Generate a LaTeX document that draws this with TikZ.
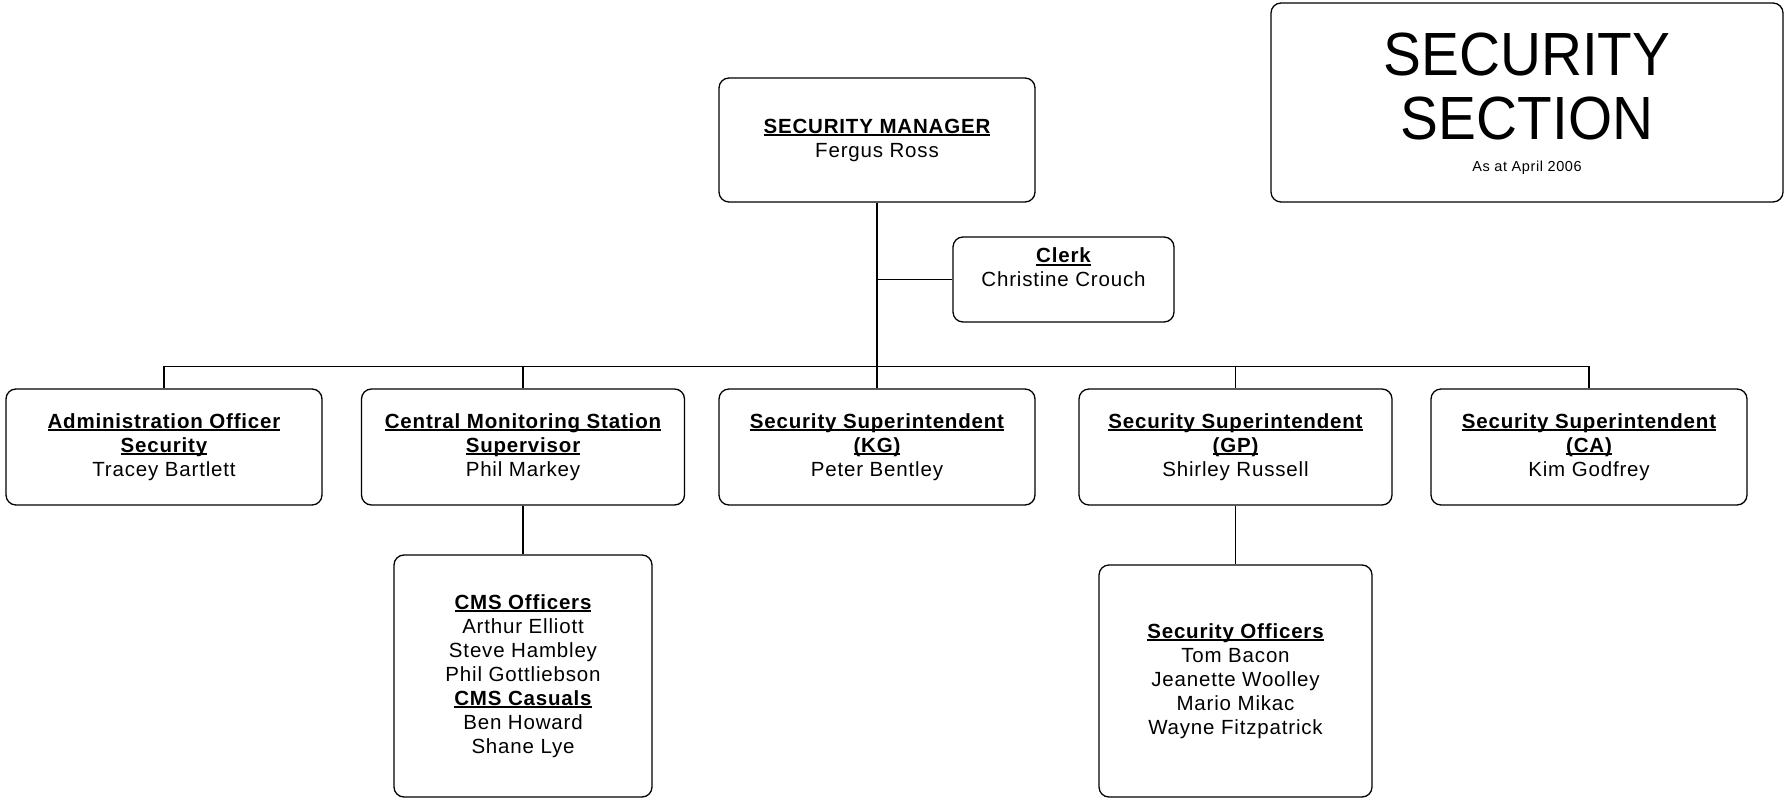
\documentclass[tikz,border=0pt]{standalone}
\usepackage{fontspec}
\setmainfont{Liberation Sans}[LetterSpace=4]
\newfontfamily\titlefont{Liberation Sans}[FakeStretch=0.93]
\usetikzlibrary{positioning}

\newsavebox{\ulbox}
\newcommand{\ulbf}[1]{\sbox{\ulbox}{\bfseries #1}\rlap{\rule[-2.6pt]{\wd\ulbox}{1.6pt}}\usebox{\ulbox}}

\begin{document}
\begin{tikzpicture}[x=1pt, y=-1pt,
    box/.style={draw, line width=1.3pt, rounded corners=10pt, align=center,
      font=\fontsize{20.5}{24}\selectfont, inner sep=2pt},
    link/.style={line width=1.3pt}]
  \useasboundingbox (0,0) rectangle (1786,799);

  % Title block
  \node[box, minimum width=512, minimum height=199] (title) at (1527,102.5) {};
  \node[anchor=base, font=\titlefont\fontsize{61}{65}\selectfont] (ttlA) at (1527,76) {SECURITY};
  \node[anchor=base, font=\titlefont\fontsize{61}{65}\selectfont] (ttlB) at (1527,140) {SECTION};
  \node[anchor=base, font=\fontsize{14.5}{17}\selectfont] (ttlC) at (1527,172) {As at April 2006};

  % Manager and clerk
  \node[box, minimum width=316, minimum height=124] (mgr) at (877,140)
    {\ulbf{SECURITY MANAGER}\\Fergus Ross};
  \node[box, minimum width=221, minimum height=85] (clerk) at (1063.5,279.5)
    {\ulbf{Clerk}\\Christine Crouch\\ \mbox{}};

  % Second row
  \node[box, minimum width=316, minimum height=116] (admin) at (164,447)
    {\ulbf{Administration Officer}\\\ulbf{Security}\\Tracey Bartlett};
  \node[box, minimum width=323, minimum height=116] (cms) at (523,447)
    {\ulbf{Central Monitoring Station}\\\ulbf{Supervisor}\\Phil Markey};
  \node[box, minimum width=316, minimum height=116] (kg) at (877,447)
    {\ulbf{Security Superintendent}\\\ulbf{(KG)}\\Peter Bentley};
  \node[box, minimum width=313, minimum height=116] (gp) at (1235.5,447)
    {\ulbf{Security Superintendent}\\\ulbf{(GP)}\\Shirley Russell};
  \node[box, minimum width=316, minimum height=116] (ca) at (1589,447)
    {\ulbf{Security Superintendent}\\\ulbf{(CA)}\\Kim Godfrey};

  % Third row
  \node[box, minimum width=258, minimum height=242] (cmsoff) at (523,676)
    {\ulbf{CMS Officers}\\Arthur Elliott\\Steve Hambley\\Phil Gottliebson\\
     \ulbf{CMS Casuals}\\Ben Howard\\Shane Lye};
  \node[box, minimum width=273, minimum height=232] (secoff) at (1235.5,681)
    {\ulbf{Security Officers}\\Tom Bacon\\Jeanette Woolley\\Mario Mikac\\Wayne Fitzpatrick};

  % Connectors
  \coordinate (bus) at (877,366.8);
  \draw[line width=2pt] (mgr.south) -- (kg.north);
  \draw[link] (clerk.west) -- (clerk.west -| mgr.south);
  \draw[link] (admin.north) -- (admin.north |- bus) -- (ca.north |- bus) -- (ca.north);
  \draw[link] (cms.north) -- (cms.north |- bus);
  \draw[link] (gp.north) -- (gp.north |- bus);
  \draw[link] (cms.south) -- (cmsoff.north);
  \draw[link] (gp.south) -- (secoff.north);
\end{tikzpicture}
\end{document}
